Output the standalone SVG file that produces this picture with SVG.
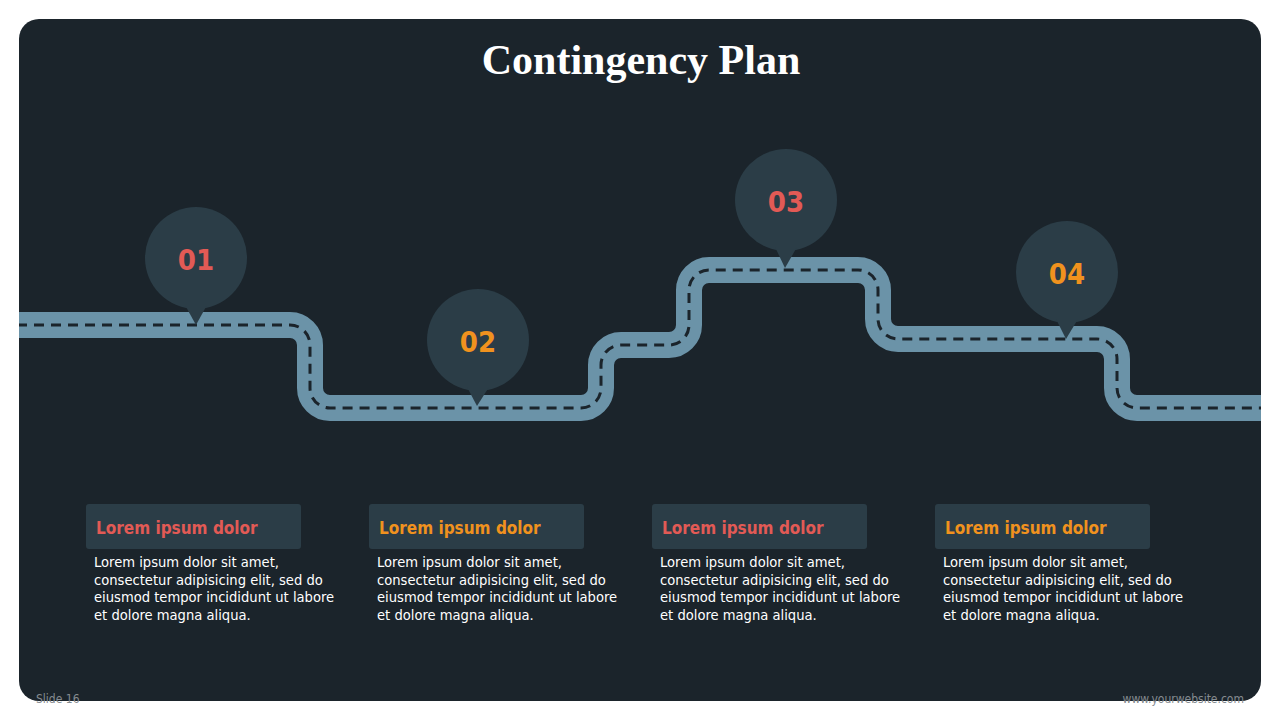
<svg xmlns="http://www.w3.org/2000/svg" width="1280" height="720" viewBox="0 0 1280 720">
<style>
.title{font-family:"Liberation Serif",serif;font-weight:bold;font-size:42px;fill:#ffffff;text-anchor:middle}
.num{font-family:"DejaVu Sans Condensed","DejaVu Sans",sans-serif;font-weight:bold;font-size:29px;text-anchor:middle}
.red{fill:#e25a55}
.org{fill:#f0921e}
.hdr{font-family:"DejaVu Sans Condensed","DejaVu Sans",sans-serif;font-weight:bold;font-size:17px}
.body{font-family:"DejaVu Sans Condensed","DejaVu Sans",sans-serif;font-size:14.6px;fill:#ffffff}
.foot{font-family:"DejaVu Sans Condensed","DejaVu Sans",sans-serif;font-size:12px;fill:#858b90}
.pin{fill:#2b3d47}
.box{fill:#2b3d47}
.road{fill:none;stroke:#6b93a8;stroke-width:26}
.lane{fill:none;stroke:#1b242b;stroke-width:3;stroke-dasharray:10 7}
</style>
<defs>
<clipPath id="slideClip"><rect x="19" y="19" width="1242" height="682" rx="20"/></clipPath>
<path id="roadPath" d="M 0 325 H 290 A 20 20 0 0 1 310 345 V 388 A 20 20 0 0 0 330 408 H 581 A 20 20 0 0 0 601 388 V 365 A 20 20 0 0 1 621 345 H 669 A 20 20 0 0 0 689 325 V 290 A 20 20 0 0 1 709 270 H 858 A 20 20 0 0 1 878 290 V 319 A 20 20 0 0 0 898 339 H 1097 A 20 20 0 0 1 1117 359 V 388 A 20 20 0 0 0 1137 408 H 1280"/>
</defs>
<rect x="0" y="0" width="1280" height="720" fill="#ffffff"/>
<rect x="19" y="19" width="1242" height="682" rx="20" fill="#1b242b"/>
<text class="title" x="641" y="74">Contingency Plan</text>

<g id="connectors" clip-path="url(#slideClip)">
<use href="#roadPath" class="road"/>
<use href="#roadPath" class="lane"/>
</g>

<g id="pin1">
<circle class="pin" cx="196" cy="258" r="51"/>
<path class="pin" d="M 185 305 L 207 305 L 196 325 Z"/>
<text class="num red" x="196" y="270">01</text>
</g>
<g id="pin2">
<circle class="pin" cx="478" cy="340" r="51"/>
<path class="pin" d="M 467 387 L 489 387 L 477 406 Z"/>
<text class="num org" x="478" y="352">02</text>
</g>
<g id="pin3">
<circle class="pin" cx="786" cy="200" r="51"/>
<path class="pin" d="M 775 247 L 797 247 L 785 268 Z"/>
<text class="num red" x="786" y="212">03</text>
</g>
<g id="pin4">
<circle class="pin" cx="1067" cy="272" r="51"/>
<path class="pin" d="M 1056 319 L 1078 319 L 1066 339 Z"/>
<text class="num org" x="1067" y="284">04</text>
</g>

<g id="card1">
<rect class="box" x="86" y="504" width="215" height="45" rx="3"/>
<text class="hdr red" x="96" y="534">Lorem ipsum dolor</text>
<text class="body" x="94" y="567">Lorem ipsum dolor sit amet,</text>
<text class="body" x="94" y="584.5">consectetur adipisicing elit, sed do</text>
<text class="body" x="94" y="602">eiusmod tempor incididunt ut labore</text>
<text class="body" x="94" y="619.5">et dolore magna aliqua.</text>
</g>
<g id="card2">
<rect class="box" x="369" y="504" width="215" height="45" rx="3"/>
<text class="hdr org" x="379" y="534">Lorem ipsum dolor</text>
<text class="body" x="377" y="567">Lorem ipsum dolor sit amet,</text>
<text class="body" x="377" y="584.5">consectetur adipisicing elit, sed do</text>
<text class="body" x="377" y="602">eiusmod tempor incididunt ut labore</text>
<text class="body" x="377" y="619.5">et dolore magna aliqua.</text>
</g>
<g id="card3">
<rect class="box" x="652" y="504" width="215" height="45" rx="3"/>
<text class="hdr red" x="662" y="534">Lorem ipsum dolor</text>
<text class="body" x="660" y="567">Lorem ipsum dolor sit amet,</text>
<text class="body" x="660" y="584.5">consectetur adipisicing elit, sed do</text>
<text class="body" x="660" y="602">eiusmod tempor incididunt ut labore</text>
<text class="body" x="660" y="619.5">et dolore magna aliqua.</text>
</g>
<g id="card4">
<rect class="box" x="935" y="504" width="215" height="45" rx="3"/>
<text class="hdr org" x="945" y="534">Lorem ipsum dolor</text>
<text class="body" x="943" y="567">Lorem ipsum dolor sit amet,</text>
<text class="body" x="943" y="584.5">consectetur adipisicing elit, sed do</text>
<text class="body" x="943" y="602">eiusmod tempor incididunt ut labore</text>
<text class="body" x="943" y="619.5">et dolore magna aliqua.</text>
</g>

<text class="foot" x="36" y="703">Slide 16</text>
<text class="foot" x="1244" y="703" text-anchor="end">www.yourwebsite.com</text>
</svg>
